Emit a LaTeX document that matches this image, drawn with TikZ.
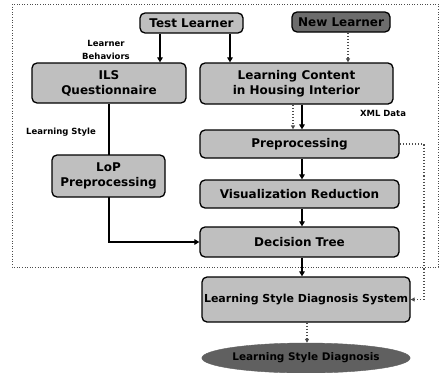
\documentclass[tikz,border=0pt]{standalone}
\usepackage{fontspec}
\setmainfont{DejaVu Sans}
\usetikzlibrary{shapes.geometric,arrows.meta}
\begin{document}
\begin{tikzpicture}[x=1pt,y=-1pt,
 box/.style={draw=black, line width=1.3pt, rounded corners=5pt, fill=gray!50, font=\bfseries\fontsize{12}{15}\selectfont, align=center, inner sep=0pt},
 lbl/.style={font=\bfseries\fontsize{8.5}{13}\selectfont, align=center, inner sep=0pt},
 solidarrow/.style={line width=1.6pt, -{Triangle[length=5pt,width=5.5pt]}},
 dotarrow/.style={gray!60!black, dotted, line width=1.1pt, -{Triangle[length=4pt,width=4pt]}}]
\useasboundingbox (0,0) rectangle (441,372);
\draw[dotted, gray!60!black, line width=0.6pt] (12,4) rectangle (438,267);
\coordinate (xa) at (160,0);
\coordinate (xb) at (230,0);
\coordinate (xc) at (348,0);
\coordinate (xd) at (293,0);
\coordinate (xe) at (302,0);
\coordinate (xf) at (307,0);
\coordinate (xg) at (424,0);
\node[box, minimum width=103pt, minimum height=20pt] (test) at (191.5,23) {Test Learner};
\node[box, fill=gray!85!black, minimum width=98pt, minimum height=20pt] (new) at (341,22) {New Learner};
\node[box, minimum width=154pt, minimum height=40pt] (ils) at (109,83) {ILS\\Questionnaire};
\node[box, minimum width=193pt, minimum height=41pt] (lc) at (296.5,83.5) {Learning Content\\in Housing Interior};
\node[box, minimum width=199pt, minimum height=28pt] (pre) at (299.5,144) {Preprocessing};
\node[box, minimum width=199pt, minimum height=28pt] (vis) at (299.5,194) {Visualization Reduction};
\node[box, minimum width=199pt, minimum height=30pt] (dt) at (299.5,242) {Decision Tree};
\draw[solidarrow] (ils.south) |- (dt.west);
\node[box, minimum width=113pt, minimum height=42pt] (lop) at (108.5,176) {LoP\\Preprocessing};
\node[box, minimum width=208pt, minimum height=45pt, font=\bfseries\fontsize{11}{14}\selectfont] (lsds) at (306,299.5) {Learning Style Diagnosis System};
\node[ellipse, fill=gray!75!black, draw=gray!75!black, minimum width=198pt, minimum height=30pt, inner sep=0pt, font=\bfseries\fontsize{10.5}{13}\selectfont] (out) at (306,358) {Learning Style Diagnosis};
\node[lbl] (lb) at (106,50) {Learner\\Behaviors};
\node[lbl] (xml) at (383,113) {XML Data};
\node[lbl] (ls) at (61,132) {Learning Style};
\draw[solidarrow] (test.south -| xa) -- (ils.north -| xa);
\draw[solidarrow] (test.south -| xb) -- (lc.north -| xb);
\draw[dotarrow] (new.south -| xc) -- (lc.north -| xc);
\draw[dotarrow] (lc.south -| xd) -- (pre.north -| xd);
\draw[solidarrow] (lc.south -| xe) -- (pre.north -| xe);
\draw[solidarrow] (pre.south -| xe) -- (vis.north -| xe);
\draw[solidarrow] (vis.south -| xe) -- (dt.north -| xe);
\draw[solidarrow] (dt.south -| xe) -- (lsds.north -| xe);
\draw[dotarrow] (lsds.south -| xf) -- (out.north -| xf);
\draw[dotarrow] (pre.east) -- (pre.east -| xg) |- (lsds.east);
\end{tikzpicture}
\end{document}
